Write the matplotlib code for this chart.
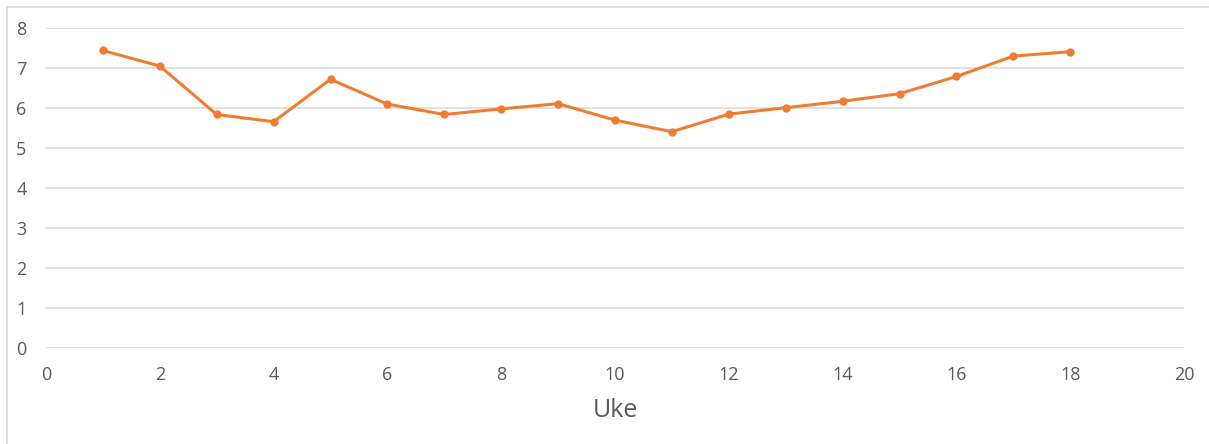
import matplotlib.pyplot as plt
from matplotlib.lines import Line2D

# weekly values
uke = [1, 2, 3, 4, 5, 6, 7, 8, 9, 10, 11, 12, 13, 14, 15, 16, 17, 18]
verdi = [7.43, 7.04, 5.83, 5.65, 6.71, 6.09, 5.83, 5.97, 6.10, 5.69, 5.40,
         5.84, 6.00, 6.16, 6.35, 6.78, 7.29, 7.40]

x_ticks = [0, 2, 4, 6, 8, 10, 12, 14, 16, 18, 20]
y_ticks = [0, 1, 2, 3, 4, 5, 6, 7, 8]

plt.rcParams['font.family'] = ['Open Sans', 'DejaVu Sans']

fig = plt.figure(figsize=(12.09, 4.44), dpi=100)
ax = fig.add_axes([46 / 1209, 1 - 347.7 / 444, (1184 - 46) / 1209, (347.7 - 27.7) / 444])

ax.plot(uke, verdi, color="#ED7D31", linewidth=2.2, marker="o", markersize=5,
        clip_on=False, zorder=3)

ax.set_xlim(0, 20)
ax.set_ylim(0, 8)
ax.set_xticks(x_ticks)
ax.set_yticks(y_ticks)
ax.grid(axis="y", color="#D9D9D9", linewidth=1.1)
ax.set_axisbelow(True)
for s in ax.spines.values():
    s.set_visible(False)
ax.tick_params(length=0, labelsize=13, colors="#595959")
ax.tick_params(axis="x", pad=13)
ax.tick_params(axis="y", pad=14)
ax.set_xlabel("Uke", fontsize=18, color="#595959", labelpad=10)

# chart area border (top and left visible)
fig.add_artist(Line2D([7 / 1209, 7 / 1209], [0, 1 - 7 / 444], color="#D9D9D9",
                      linewidth=1.2, transform=fig.transFigure))
fig.add_artist(Line2D([7 / 1209, 1], [1 - 7 / 444, 1 - 7 / 444], color="#D9D9D9",
                      linewidth=1.2, transform=fig.transFigure))

fig.savefig("out.png", dpi=100)
